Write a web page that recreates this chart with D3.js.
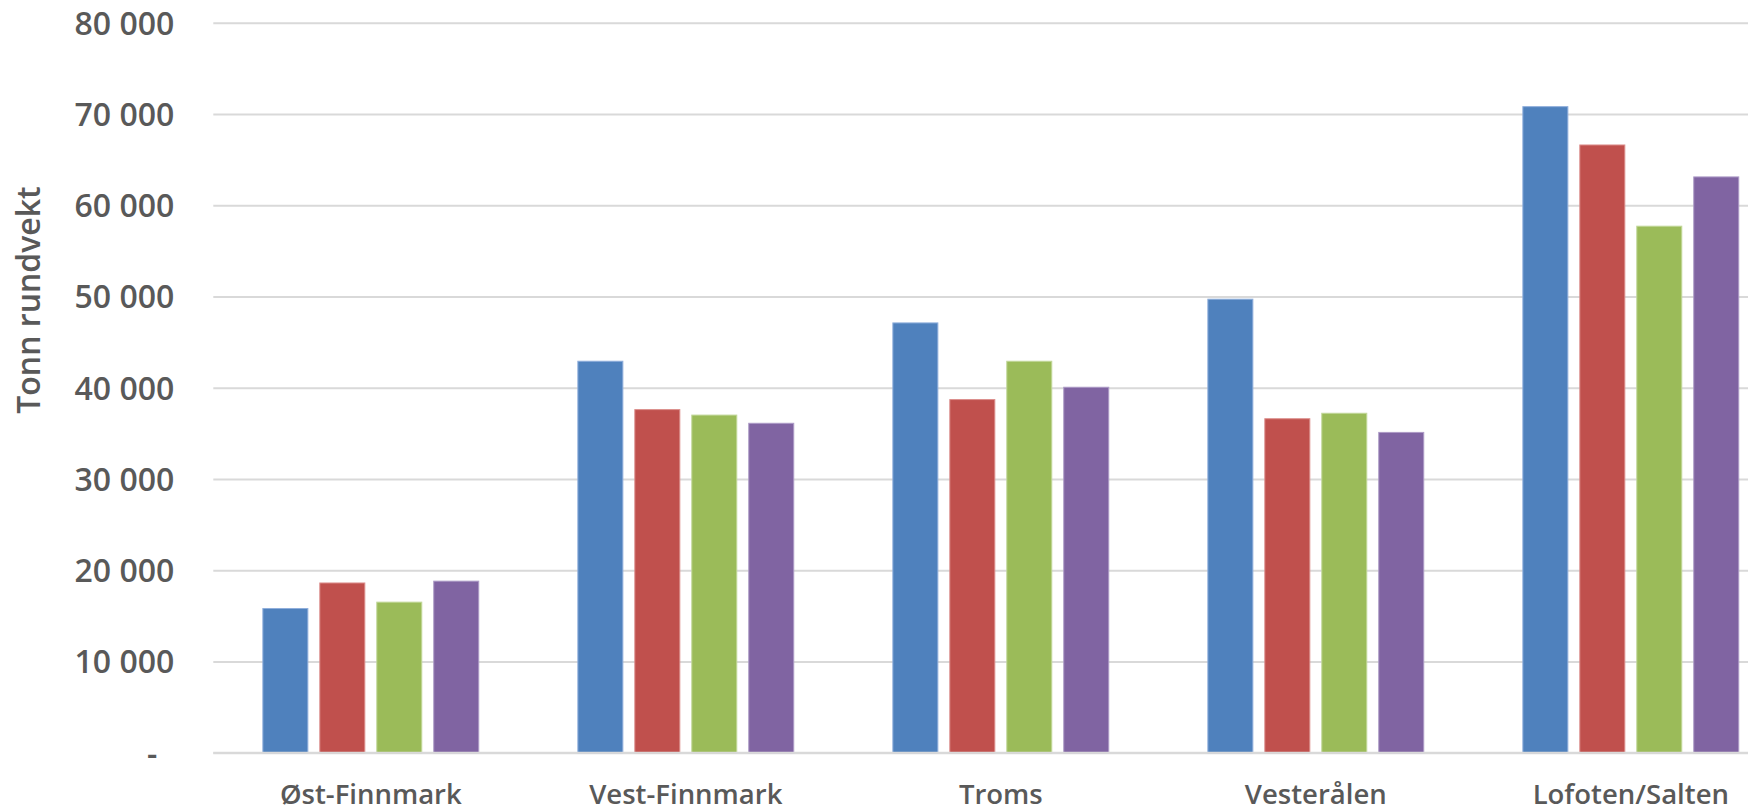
<!DOCTYPE html>
<html>
<head>
<meta charset="utf-8">
<script src="https://cdn.jsdelivr.net/npm/d3@7"></script>
<style>
  html, body { margin: 0; padding: 0; background: #fff; overflow: hidden; }
  svg { display: block; }
  text { font-family: "Open Sans", "Liberation Sans", sans-serif; font-weight: 600; fill: #595959; }
</style>
</head>
<body>
<div id="chart"></div>
<script>
// regions along the x axis
const categories = ['Øst-Finnmark', 'Vest-Finnmark', 'Troms', 'Vesterålen', 'Lofoten/Salten'];

// four series, one value per region (tonn rundvekt)
const series1 = [15800, 42900, 47100, 49700, 70800];
const series2 = [18600, 37600, 38700, 36600, 66600];
const series3 = [16500, 37000, 42900, 37200, 57700];
const series4 = [18800, 36100, 40050, 35100, 63100];

const seriesNames = ['s1', 's2', 's3', 's4'];
const seriesValues = [series1, series2, series3, series4];
const seriesColors = ['#4F81BD', '#C0504D', '#9BBB59', '#8064A2'];
const seriesStrokes = ['#8FAEDB', '#DB8E8C', '#C2D89A', '#AD9BC7'];

const yTicks = [0, 10000, 20000, 30000, 40000, 50000, 60000, 70000, 80000];
const yTitle = 'Tonn rundvekt';

const width = 1748;
const height = 811;
const margin = { top: 22.7, left: 213.3, bottom: 58.3 };

const svg = d3.select('#chart').append('svg')
    .attr('width', width)
    .attr('height', height);

// plot runs past the right edge of the picture, like the source
const x0 = d3.scaleBand()
    .domain(categories)
    .range([margin.left, margin.left + 315 * categories.length])
    .padding(0);

const x1 = d3.scaleBand()
    .domain(seriesNames)
    .range([0, x0.bandwidth()])
    .paddingInner(0.21)
    .paddingOuter(0.87);

const y = d3.scaleLinear()
    .domain([0, 80000])
    .range([height - margin.bottom, margin.top]);

const fmt = v => v === 0 ? '-' : d3.format(',')(v).replace(/,/g, ' ');

// gridlines + y labels
const yAxis = svg.append('g')
    .attr('transform', `translate(${margin.left},0)`)
    .call(d3.axisLeft(y)
        .tickValues(yTicks)
        .tickSize(-(x0.range()[1] - margin.left))
        .tickPadding(39)
        .tickFormat(fmt));

yAxis.select('.domain').remove();
yAxis.selectAll('.tick line')
    .attr('stroke', '#d9d9d9')
    .attr('stroke-width', 2);
yAxis.selectAll('.tick text')
    .attr('font-size', 32)
    .attr('dy', '0.36em')
    .attr('dx', d => d === 0 ? -17 : 0);

// bars
const groups = svg.append('g')
    .selectAll('g')
    .data(categories)
    .join('g')
    .attr('transform', d => `translate(${x0(d)},0)`);

groups.selectAll('rect')
    .data((d, i) => seriesNames.map((s, j) => ({ key: s, idx: j, value: seriesValues[j][i] })))
    .join('rect')
    .attr('x', d => x1(d.key))
    .attr('y', d => y(d.value))
    .attr('width', x1.bandwidth())
    .attr('height', d => y(0) - y(d.value))
    .attr('fill', d => seriesColors[d.idx])
    .attr('stroke', d => seriesStrokes[d.idx])
    .attr('stroke-width', 1);

// baseline over bars
svg.append('line')
    .attr('x1', margin.left)
    .attr('x2', x0.range()[1])
    .attr('y1', y(0))
    .attr('y2', y(0))
    .attr('stroke', '#d9d9d9')
    .attr('stroke-width', 2);

// x labels
const xAxis = svg.append('g')
    .attr('transform', `translate(0,${y(0)})`)
    .call(d3.axisBottom(x0).tickSize(0).tickPadding(32));
xAxis.select('.domain').remove();
xAxis.selectAll('.tick text')
    .attr('font-size', 27.5)
    .attr('dy', '0.71em');

// y title
svg.append('text')
    .attr('transform', 'translate(40,300) rotate(-90)')
    .attr('text-anchor', 'middle')
    .attr('font-size', 32)
    .text(yTitle);
</script>
</body>
</html>
